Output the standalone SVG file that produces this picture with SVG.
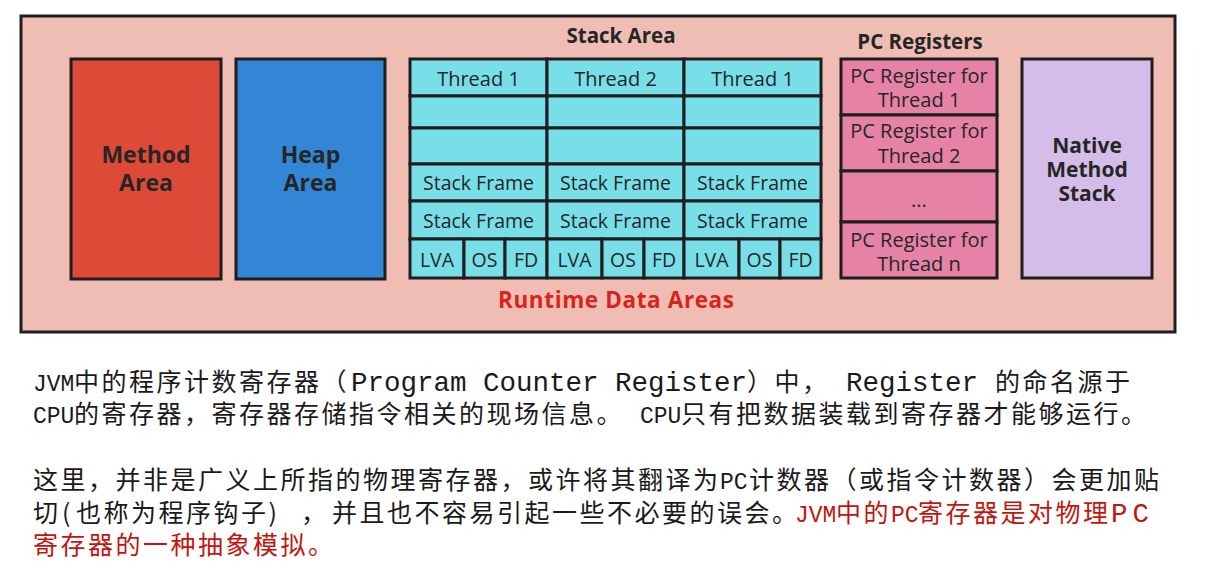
<svg xmlns="http://www.w3.org/2000/svg" width="1222" height="582" viewBox="0 0 1222 582">
<style>
.box{stroke:#1e1e1e;stroke-width:3}
.cell{fill:#78dfe9;stroke:#1e1e1e;stroke-width:3}
.pc{fill:#e682a6;stroke:#1e1e1e;stroke-width:3}
.lb{font-family:"Open Sans","Noto Sans",sans-serif;font-weight:700;fill:#262626;text-anchor:middle}
.lr{font-family:"Open Sans","Noto Sans",sans-serif;font-weight:400;fill:#262626;text-anchor:middle}
.p{font-family:"Noto Sans CJK SC",sans-serif;font-size:25px;letter-spacing:2.5px;fill:#1a1a1a}
.ms{font-family:"Liberation Mono",monospace;font-size:23px;letter-spacing:0}
.ml{font-family:"Liberation Mono",monospace;font-size:27.5px;letter-spacing:0}
.red{fill:#c3150e}
</style>
<rect width="1222" height="582" fill="#ffffff"/>
<g id="runtime-data-areas">
<rect x="21" y="16" width="1154" height="316" fill="#efbdb4" class="box"/>
<text x="616" y="308" class="lb" font-size="22.5" style="fill:#d8241a" textLength="236">Runtime Data Areas</text>
</g>
<g id="method-area">
<rect x="71" y="59" width="150" height="220" fill="#dd4a37" class="box"/>
<text class="lb" font-size="23"><tspan x="146" y="163">Method</tspan><tspan x="146" y="191">Area</tspan></text>
</g>
<g id="heap-area">
<rect x="236" y="59" width="149" height="220" fill="#3385d6" class="box"/>
<text class="lb" font-size="23"><tspan x="310.5" y="163">Heap</tspan><tspan x="310.5" y="191">Area</tspan></text>
</g>
<g id="stack-area">
<text x="621" y="43" class="lb" font-size="20.5">Stack Area</text>
<rect x="410" y="59" width="137" height="37" class="cell"/>
<rect x="547" y="59" width="137" height="37" class="cell"/>
<rect x="684" y="59" width="137" height="37" class="cell"/>
<rect x="410" y="96" width="137" height="32" class="cell"/>
<rect x="547" y="96" width="137" height="32" class="cell"/>
<rect x="684" y="96" width="137" height="32" class="cell"/>
<rect x="410" y="128" width="137" height="36" class="cell"/>
<rect x="547" y="128" width="137" height="36" class="cell"/>
<rect x="684" y="128" width="137" height="36" class="cell"/>
<rect x="410" y="164" width="137" height="37" class="cell"/>
<rect x="547" y="164" width="137" height="37" class="cell"/>
<rect x="684" y="164" width="137" height="37" class="cell"/>
<rect x="410" y="201" width="137" height="38" class="cell"/>
<rect x="547" y="201" width="137" height="38" class="cell"/>
<rect x="684" y="201" width="137" height="38" class="cell"/>
<rect x="410" y="239" width="54" height="39" class="cell"/>
<rect x="464" y="239" width="41" height="39" class="cell"/>
<rect x="505" y="239" width="42" height="39" class="cell"/>
<rect x="547" y="239" width="55" height="39" class="cell"/>
<rect x="602" y="239" width="42" height="39" class="cell"/>
<rect x="644" y="239" width="40" height="39" class="cell"/>
<rect x="684" y="239" width="55" height="39" class="cell"/>
<rect x="739" y="239" width="41" height="39" class="cell"/>
<rect x="780" y="239" width="41" height="39" class="cell"/>
<text x="478.5" y="86" class="lr" font-size="20">Thread 1</text>
<text x="615.5" y="86" class="lr" font-size="20">Thread 2</text>
<text x="752.5" y="86" class="lr" font-size="20">Thread 1</text>
<text x="478.5" y="190" class="lr" font-size="19.5">Stack Frame</text>
<text x="615.5" y="190" class="lr" font-size="19.5">Stack Frame</text>
<text x="752.5" y="190" class="lr" font-size="19.5">Stack Frame</text>
<text x="478.5" y="228" class="lr" font-size="19.5">Stack Frame</text>
<text x="615.5" y="228" class="lr" font-size="19.5">Stack Frame</text>
<text x="752.5" y="228" class="lr" font-size="19.5">Stack Frame</text>
<text x="437" y="267" class="lr" font-size="19.5">LVA</text>
<text x="484.5" y="267" class="lr" font-size="19.5">OS</text>
<text x="526" y="267" class="lr" font-size="19.5">FD</text>
<text x="574.5" y="267" class="lr" font-size="19.5">LVA</text>
<text x="623" y="267" class="lr" font-size="19.5">OS</text>
<text x="664" y="267" class="lr" font-size="19.5">FD</text>
<text x="711.5" y="267" class="lr" font-size="19.5">LVA</text>
<text x="759.5" y="267" class="lr" font-size="19.5">OS</text>
<text x="800.5" y="267" class="lr" font-size="19.5">FD</text>
</g>
<g id="pc-registers">
<text x="920" y="49" class="lb" font-size="20.5">PC Registers</text>
<rect x="841" y="59" width="156" height="56" class="pc"/>
<rect x="841" y="115" width="156" height="56" class="pc"/>
<rect x="841" y="171" width="156" height="51" class="pc"/>
<rect x="841" y="222" width="156" height="56" class="pc"/>
<text class="lr" font-size="20"><tspan x="919" y="83">PC Register for</tspan><tspan x="919" y="107">Thread 1</tspan></text>
<text class="lr" font-size="20"><tspan x="919" y="138">PC Register for</tspan><tspan x="919" y="163">Thread 2</tspan></text>
<text x="919" y="207" class="lr" font-size="20">...</text>
<text class="lr" font-size="20"><tspan x="919" y="247">PC Register for</tspan><tspan x="919" y="271">Thread n</tspan></text>
</g>
<g id="native-method-stack">
<rect x="1022" y="59" width="130" height="219" fill="#d5bde9" class="box"/>
<text class="lb" font-size="21"><tspan x="1087" y="153">Native</tspan><tspan x="1087" y="177">Method</tspan><tspan x="1087" y="201">Stack</tspan></text>
</g>
<g id="description">
<text class="p" y="391"><tspan class="ms" x="33">JVM</tspan><tspan x="74">中的程序计数寄存器（</tspan><tspan class="ml" x="351">Program Counter Register</tspan><tspan x="747">）中，</tspan><tspan class="ml" x="846">Register</tspan><tspan x="995">的命名源于</tspan></text>
<text class="p" y="423"><tspan class="ms" x="33">CPU</tspan><tspan x="74">的寄存器，寄存器存储指令相关的现场信息。</tspan><tspan class="ms" x="640">CPU</tspan><tspan x="681">只有把数据装载到寄存器才能够运行。</tspan></text>
<text class="p" y="489"><tspan x="33">这里，并非是广义上所指的物理寄存器，或许将其翻译为</tspan><tspan class="ms" x="720">PC</tspan><tspan x="749">计数器（或指令计数器）会更加贴</tspan></text>
<text class="p" y="522"><tspan x="33">切</tspan><tspan x="62">(</tspan><tspan x="76">也称为程序钩子)</tspan><tspan x="301">，</tspan><tspan x="332">并且也不容易引起一些不必要的误会。</tspan><tspan class="ms red" x="795">JVM</tspan><tspan class="red" x="836">中的</tspan><tspan class="ms red" x="891">PC</tspan><tspan class="red" x="918">寄存器是对物理</tspan><tspan class="ml red" x="1111" style="letter-spacing:5px">PC</tspan></text>
<text class="p red" x="33" y="554">寄存器的一种抽象模拟。</text>
</g>
</svg>
